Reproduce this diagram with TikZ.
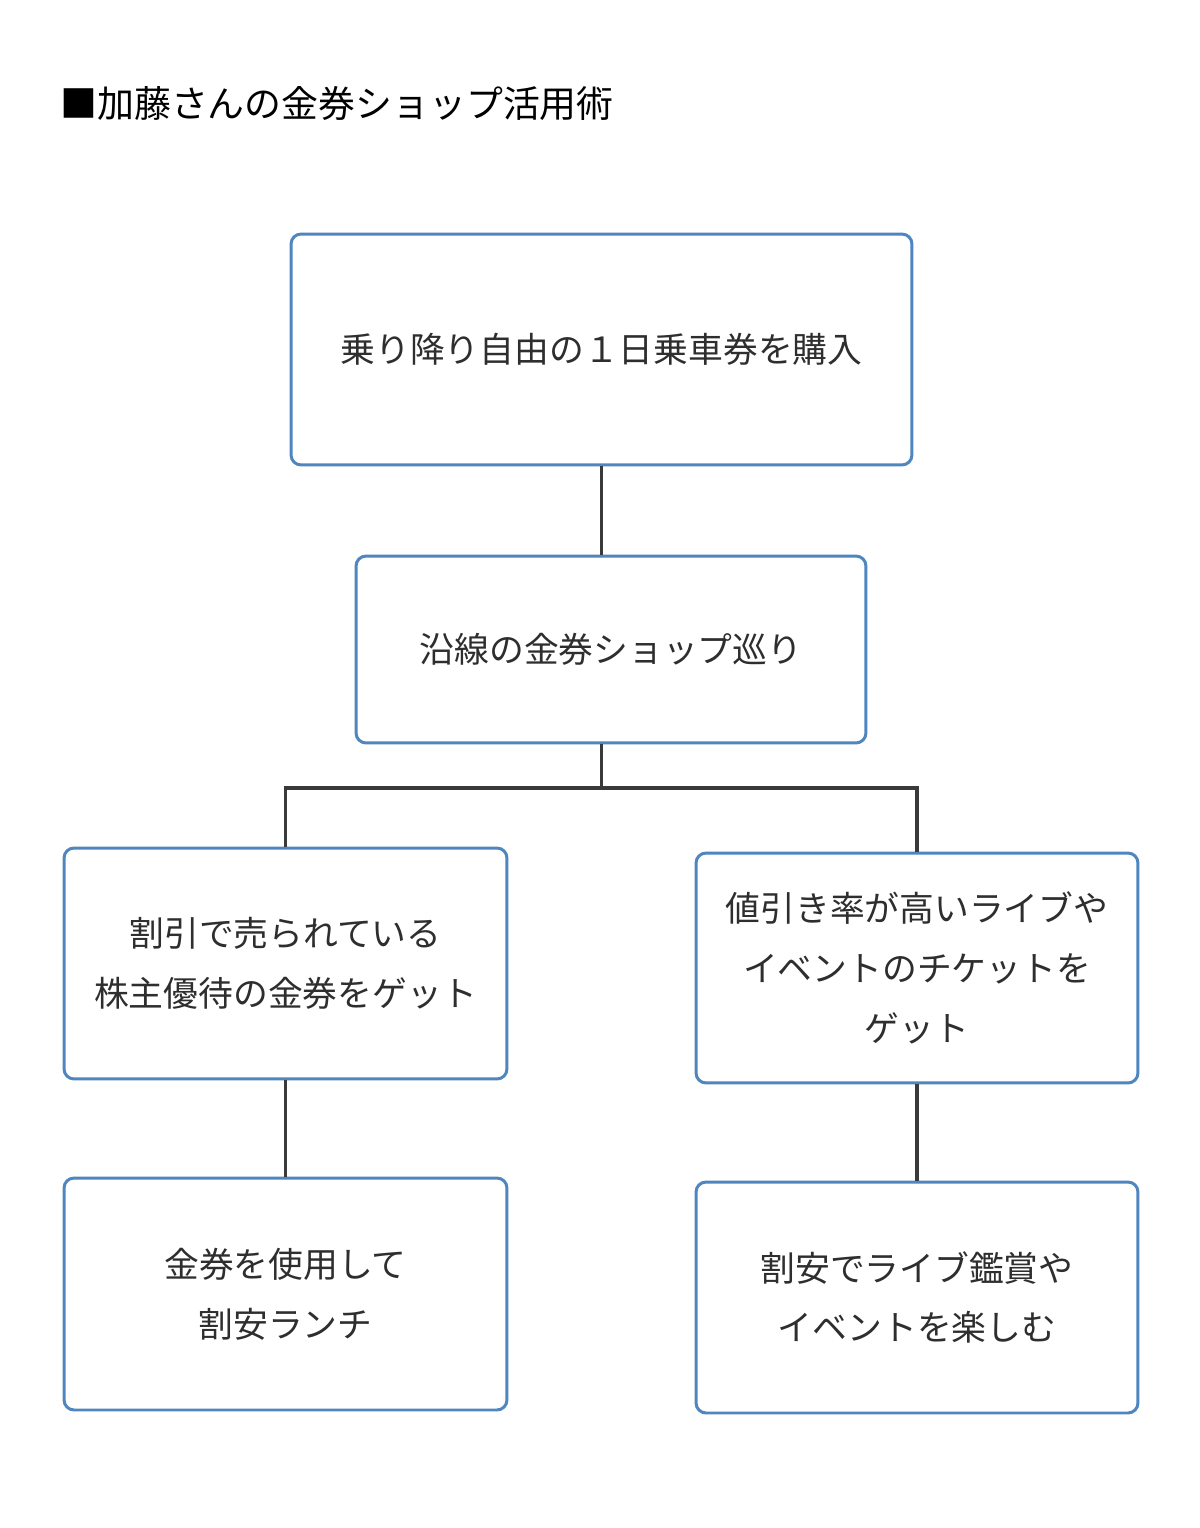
\documentclass[tikz,border=0pt]{standalone}
\usepackage{fontspec}
\setmainfont{Noto Sans CJK JP}
\usepackage{tikz}

\definecolor{boxblue}{HTML}{4F86C0}
\definecolor{linegray}{HTML}{3A3A3A}
\definecolor{textgray}{HTML}{2E2E2E}

\tikzset{
  stepbox/.style={draw=boxblue, line width=1.7pt, rounded corners=0.2cm, fill=white,
    inner sep=0pt, align=center, text=textgray,
    font=\fontsize{19.8pt}{34pt}\selectfont},
  link/.style={draw=linegray, line width=2pt}
}

\begin{document}
\begin{tikzpicture}[x=0.02cm, y=-0.02cm]
\useasboundingbox[fill=white] (0,0) rectangle (1200,1528);

% Title
\node[anchor=west, inner sep=0pt, text=black, font=\fontsize{21pt}{25pt}\selectfont] (title) at (60,104) {■加藤さんの金券ショップ活用術};

% Boxes
\node[stepbox, minimum width=12.42cm, minimum height=4.62cm] (ticket) at (601.5,349.5) {乗り降り自由の１日乗車券を購入};
\node[stepbox, minimum width=10.2cm, minimum height=3.74cm] (shops) at (611,649.5) {沿線の金券ショップ巡り};
\node[stepbox, minimum width=8.86cm, minimum height=4.62cm] (yutai) at (285.5,963.5) {割引で売られている\\株主優待の金券をゲット};
\node[stepbox, minimum width=8.84cm, minimum height=4.6cm] (live) at (917,968) {値引き率が高いライブや\\イベントのチケットを\\ゲット};
\node[stepbox, minimum width=8.86cm, minimum height=4.64cm] (lunch) at (285.5,1294) {金券を使用して\\割安ランチ};
\node[stepbox, minimum width=8.84cm, minimum height=4.62cm] (enjoy) at (917,1297.5) {割安でライブ鑑賞や\\イベントを楽しむ};

% Connectors
\coordinate (split) at (601.5,788);
\draw[link] (ticket.south) -- (ticket.south |- shops.north);
\draw[link] (ticket.south |- shops.south) -- (split);
\draw[link] (yutai.north) -- (yutai.north |- split) -- (live.north |- split) -- (live.north);
\draw[link] (yutai.south) -- (lunch.north);
\draw[link] (live.south) -- (enjoy.north);
\end{tikzpicture}
\end{document}
